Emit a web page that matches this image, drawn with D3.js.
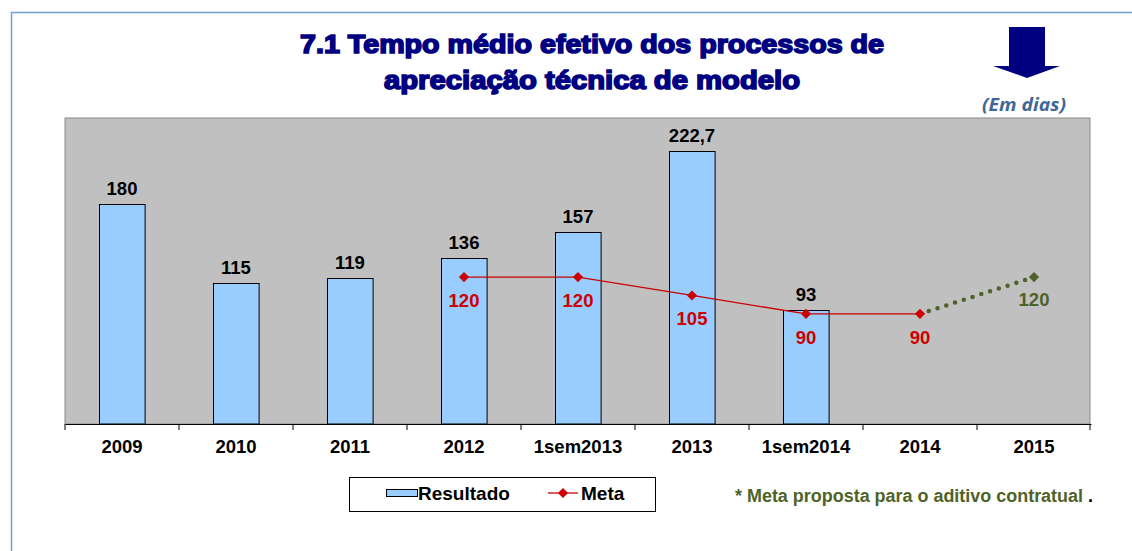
<!DOCTYPE html>
<html>
<head>
<meta charset="utf-8">
<script src="https://cdn.jsdelivr.net/npm/d3@7"></script>
<style>
  body { margin: 0; background: #fff; }
  svg { display: block; }
</style>
</head>
<body>
<script>
var w = 1132;
var h = 551;

var categories = ["2009", "2010", "2011", "2012", "1sem2013", "2013", "1sem2014", "2014", "2015"];
var resultado = [180, 115, 119, 136, 157, 222.7, 93, null, null];
var meta = [null, null, null, 120, 120, 105, 90, 90, null];
var metaProposta = [null, null, null, null, null, null, null, 90, 120];

var fmt = function (v) { return String(v).replace(".", ","); };
var fontFam = "Liberation Sans, Arial, sans-serif";
var labSize = 18.5;

var svg = d3.select("body").append("svg")
    .attr("width", w)
    .attr("height", h);

//---frame-----
svg.append("path")
    .attr("d", "M11.5," + h + " L11.5,12.5 L" + w + ",12.5")
    .attr("fill", "none")
    .attr("stroke", "#6f9fd8")
    .attr("stroke-width", 1.5);

//---title-----
var titleLines = [
    {text: "7.1 Tempo médio efetivo dos processos de", y: 53, len: 584},
    {text: "apreciação técnica de modelo", y: 89, len: 416}
];
svg.selectAll("text.title")
    .data(titleLines)
    .enter().append("text")
    .attr("class", "title")
    .text(function (d) { return d.text; })
    .attr("x", 592)
    .attr("y", function (d) { return d.y; })
    .attr("text-anchor", "middle")
    .attr("textLength", function (d) { return d.len; })
    .attr("lengthAdjust", "spacingAndGlyphs")
    .attr("font-family", fontFam)
    .attr("font-weight", "bold")
    .attr("font-size", 26)
    .attr("fill", "#000080")
    .attr("stroke", "#000080")
    .attr("stroke-width", 1.6);

//---arrow-----
svg.append("path")
    .attr("d", "M1009,27 L1045,27 L1045,66 L1060,66 L1027,78 L993,66 L1009,66 Z")
    .attr("fill", "#000080");

svg.append("text")
    .text("(Em dias)")
    .attr("x", 982)
    .attr("y", 111)
    .attr("textLength", 84)
    .attr("lengthAdjust", "spacingAndGlyphs")
    .attr("font-family", "Open Sans, sans-serif")
    .attr("font-style", "italic")
    .attr("font-weight", "bold")
    .attr("font-size", 18)
    .attr("fill", "#3f6797");

//---plot area-----
var pLeft = 65, pRight = 1091, pTop = 118, pBottom = 424;

var x = d3.scaleBand()
    .domain(categories)
    .range([pLeft, pRight])
    .padding(0);

var y = d3.scaleLinear()
    .domain([0, 250])
    .range([pBottom, pTop]);

svg.append("rect")
    .attr("x", pLeft)
    .attr("y", pTop)
    .attr("width", pRight - pLeft - 1)
    .attr("height", pBottom - pTop)
    .attr("fill", "#c0c0c0")
    .attr("stroke", "#8a8a8a")
    .attr("stroke-width", 1);

var barW = x.bandwidth() * 0.4;
var cx = function (c) { return x(c) + x.bandwidth() / 2; };

var barData = categories.map(function (c, i) { return {c: c, v: resultado[i]}; })
    .filter(function (d) { return d.v != null; });

svg.selectAll("rect.bar")
    .data(barData)
    .enter().append("rect")
    .attr("class", "bar")
    .attr("x", function (d) { return Math.round(cx(d.c) - barW / 2) + 0.5; })
    .attr("y", function (d) { return Math.round(y(d.v)) + 0.5; })
    .attr("width", barW)
    .attr("height", function (d) { return y(0) - Math.round(y(d.v)) - 0.5; })
    .attr("fill", "#99ccff")
    .attr("stroke", "#000")
    .attr("stroke-width", 1);

svg.selectAll("text.barlab")
    .data(barData)
    .enter().append("text")
    .attr("class", "barlab")
    .text(function (d) { return fmt(d.v); })
    .attr("x", function (d) { return cx(d.c); })
    .attr("y", function (d) { return y(d.v) - 9; })
    .attr("text-anchor", "middle")
    .attr("font-family", fontFam)
    .attr("font-weight", "bold")
    .attr("font-size", labSize)
    .attr("fill", "#000");

//---x axis-----
var xAxis = d3.axisBottom(x).tickSize(0).tickPadding(0);
var ax = svg.append("g")
    .attr("transform", "translate(0," + pBottom + ")")
    .call(xAxis);
ax.select(".domain").attr("stroke", "#000").attr("stroke-width", 1.2);
ax.selectAll("text")
    .attr("y", 29)
    .attr("dy", null)
    .attr("font-family", fontFam)
    .attr("font-weight", "bold")
    .attr("font-size", labSize)
    .attr("fill", "#000");

var tickPos = categories.map(function (c) { return x(c); }).concat([pRight - 1]);
svg.selectAll("line.tick2")
    .data(tickPos)
    .enter().append("line")
    .attr("x1", function (d) { return d; })
    .attr("x2", function (d) { return d; })
    .attr("y1", pBottom)
    .attr("y2", pBottom + 6)
    .attr("stroke", "#000");

//---meta line-----
var metaData = categories.map(function (c, i) { return {c: c, v: meta[i]}; })
    .filter(function (d) { return d.v != null; });
var propData = categories.map(function (c, i) { return {c: c, v: metaProposta[i]}; })
    .filter(function (d) { return d.v != null; });

var line = d3.line()
    .x(function (d) { return cx(d.c); })
    .y(function (d) { return y(d.v); });

svg.append("path")
    .datum(propData)
    .attr("d", line)
    .attr("fill", "none")
    .attr("stroke", "#4f6228")
    .attr("stroke-width", 4.5)
    .attr("stroke-linecap", "round")
    .attr("stroke-dasharray", "0,9.2");

svg.append("path")
    .datum(metaData)
    .attr("d", line)
    .attr("fill", "none")
    .attr("stroke", "#cc0000")
    .attr("stroke-width", 1.3);

// square diamond, rotated 45 degrees
var diamond = d3.symbol().type(d3.symbolSquare).size(52);

svg.selectAll("path.mk")
    .data(metaData)
    .enter().append("path")
    .attr("class", "mk")
    .attr("d", diamond)
    .attr("transform", function (d) { return "translate(" + cx(d.c) + "," + y(d.v) + ") rotate(45)"; })
    .attr("fill", "#cc0000");

svg.selectAll("path.mk2")
    .data(propData.slice(1))
    .enter().append("path")
    .attr("class", "mk2")
    .attr("d", diamond)
    .attr("transform", function (d) { return "translate(" + cx(d.c) + "," + y(d.v) + ") rotate(45)"; })
    .attr("fill", "#4f6228");

svg.selectAll("text.metalab")
    .data(metaData)
    .enter().append("text")
    .attr("class", "metalab")
    .text(function (d) { return fmt(d.v); })
    .attr("x", function (d) { return cx(d.c); })
    .attr("y", function (d) { return y(d.v) + 30; })
    .attr("text-anchor", "middle")
    .attr("font-family", fontFam)
    .attr("font-weight", "bold")
    .attr("font-size", labSize)
    .attr("fill", "#cc0000");

svg.selectAll("text.proplab")
    .data(propData.slice(1))
    .enter().append("text")
    .attr("class", "proplab")
    .text(function (d) { return fmt(d.v); })
    .attr("x", function (d) { return cx(d.c); })
    .attr("y", function (d) { return y(d.v) + 29; })
    .attr("text-anchor", "middle")
    .attr("font-family", fontFam)
    .attr("font-weight", "bold")
    .attr("font-size", labSize)
    .attr("fill", "#4f6228");

//---legend-----
var lg = svg.append("g");
lg.append("rect")
    .attr("x", 349.5).attr("y", 477.5)
    .attr("width", 306).attr("height", 34)
    .attr("fill", "#fff").attr("stroke", "#000");
lg.append("rect")
    .attr("x", 386.5).attr("y", 489.5)
    .attr("width", 31).attr("height", 7)
    .attr("fill", "#99ccff").attr("stroke", "#000");
lg.append("text")
    .text("Resultado")
    .attr("x", 418).attr("y", 500)
    .attr("font-family", fontFam)
    .attr("font-weight", "bold")
    .attr("font-size", 19);
lg.append("line")
    .attr("x1", 548).attr("x2", 578)
    .attr("y1", 493).attr("y2", 493)
    .attr("stroke", "#cc0000").attr("stroke-width", 1.3);
lg.append("path")
    .attr("d", diamond)
    .attr("transform", "translate(563,493) rotate(45)")
    .attr("fill", "#cc0000");
lg.append("text")
    .text("Meta")
    .attr("x", 581).attr("y", 500)
    .attr("font-family", fontFam)
    .attr("font-weight", "bold")
    .attr("font-size", 19);

//---note-----
var note = svg.append("text")
    .attr("x", 735).attr("y", 502)
    .attr("font-family", fontFam)
    .attr("font-weight", "bold")
    .attr("font-size", 18);
note.append("tspan")
    .text("* Meta proposta para o aditivo contratual")
    .attr("textLength", 348)
    .attr("lengthAdjust", "spacingAndGlyphs")
    .attr("fill", "#4f6228");
note.append("tspan")
    .text(" .")
    .attr("fill", "#000");
</script>
</body>
</html>
